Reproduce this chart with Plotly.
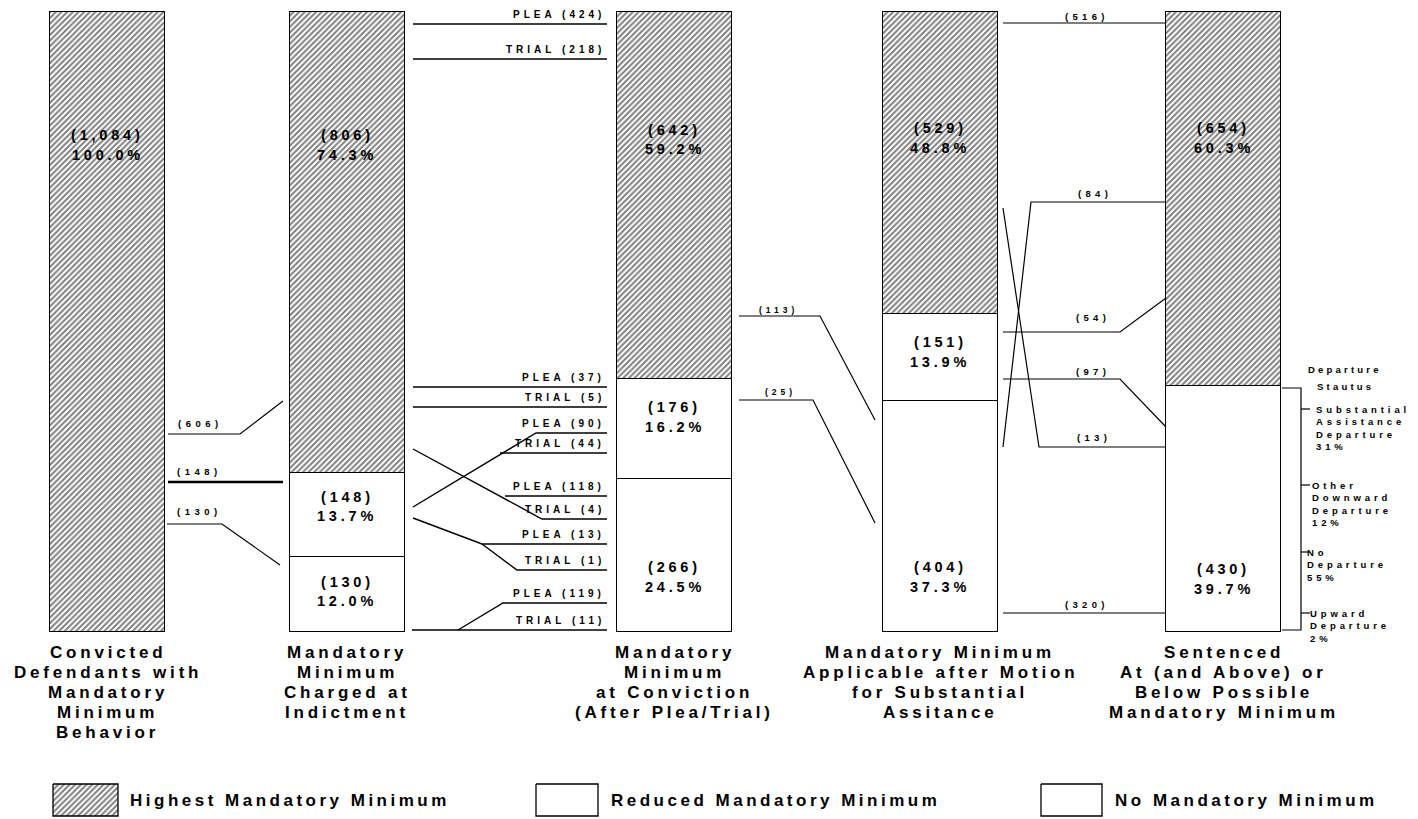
import plotly.graph_objects as go

W, H = 1418, 819

# ---------------- data ----------------
stage_labels = [
    ["Convicted", "Defendants with", "Mandatory", "Minimum", "Behavior"],
    ["Mandatory", "Minimum", "Charged at", "Indictment"],
    ["Mandatory", "Minimum", "at Conviction", "(After Plea/Trial)"],
    ["Mandatory Minimum", "Applicable after Motion", "for Substantial", "Assitance"],
    ["Sentenced", "At (and Above) or", "Below Possible", "Mandatory Minimum"],
]
total_cases = 1084
highest = [1084, 806, 642, 529, 654]
reduced = [None, 148, 176, 151, None]
no_min = [None, 130, 266, 404, 430]
pct_highest = ["100.0%", "74.3%", "59.2%", "48.8%", "60.3%"]
pct_reduced = [None, "13.7%", "16.2%", "13.9%", None]
pct_no_min = [None, "12.0%", "24.5%", "37.3%", "39.7%"]

flows_1_2 = ["(606)", "(148)", "(130)"]
plea_trial = [("PLEA", 424), ("TRIAL", 218), ("PLEA", 37), ("TRIAL", 5),
              ("PLEA", 90), ("TRIAL", 44), ("PLEA", 118), ("TRIAL", 4),
              ("PLEA", 13), ("TRIAL", 1), ("PLEA", 119), ("TRIAL", 11)]
flows_3_4 = [113, 25]
flows_4_5 = [516, 84, 54, 97, 13, 320]
departure_status = [("Substantial<br>Assistance<br>Departure", 31),
                    ("Other<br>Downward<br>Departure", 12),
                    ("No<br>Departure", 55),
                    ("Upward<br>Departure", 2)]
legend_names = ["Highest Mandatory Minimum", "Reduced Mandatory Minimum", "No Mandatory Minimum"]

# ---------------- layout helpers (pixel space) ----------------
stage_x = [107.5, 347, 674.5, 940, 1223.5]
bar_w = 115
base_px, top_px = 631.5, 12.0
k = (base_px - top_px) / total_cases
y_range = [-(H - base_px) / k, base_px / k]

FONT = "Liberation Sans, Arial, Helvetica, sans-serif"


def sp(text, ls):
    return f'<span style="letter-spacing:{ls}px">{text}</span>'


fig = go.Figure()

hatch = dict(shape="/", fgcolor="black", bgcolor="white", size=4, solidity=0.5)
fig.add_trace(go.Bar(x=stage_x, y=no_min, width=bar_w, name=legend_names[2],
                     marker=dict(color="white", line=dict(color="black", width=1.5)),
                     hoverinfo="skip", showlegend=False))
fig.add_trace(go.Bar(x=stage_x, y=reduced, width=bar_w, name=legend_names[1],
                     marker=dict(color="white", line=dict(color="black", width=1.5)),
                     hoverinfo="skip", showlegend=False))
fig.add_trace(go.Bar(x=stage_x, y=highest, width=bar_w, name=legend_names[0],
                     marker=dict(color="white", pattern=hatch, line=dict(color="black", width=1.5)),
                     hoverinfo="skip", showlegend=False))

annotations = []


def add_text(x, y, text, size=10, ls=4, xanchor="center", yanchor="middle", align="center"):
    annotations.append(dict(x=x, y=y, xref="x", yref="y2", text=sp(text, ls), showarrow=False,
                            xanchor=xanchor, yanchor=yanchor, align=align,
                            font=dict(family=FONT, size=size, color="black", weight="bold")))


def add_line(pts, width=1.3):
    fig.add_trace(go.Scatter(x=[p[0] for p in pts], y=[p[1] for p in pts], mode="lines",
                             line=dict(color="black", width=width), yaxis="y2",
                             hoverinfo="skip", showlegend=False))


# ---- bar value labels ----
seg_label_y = {
    (0, "h"): (135, 155), (1, "h"): (135, 155), (2, "h"): (130, 149), (3, "h"): (128, 148), (4, "h"): (128, 148),
    (1, "r"): (497, 516), (1, "n"): (582, 601),
    (2, "r"): (407, 427), (2, "n"): (567, 587),
    (3, "r"): (342, 362), (3, "n"): (567, 587),
    (4, "n"): (569, 589),
}
for i in range(5):
    for key, arr, pcts in (("h", highest, pct_highest), ("r", reduced, pct_reduced), ("n", no_min, pct_no_min)):
        v = arr[i]
        if v is None:
            continue
        y1, y2 = seg_label_y[(i, key)]
        add_text(stage_x[i], y1, f"({v:,})", size=14.5, ls=3.8)
        add_text(stage_x[i], y2, pcts[i], size=14.5, ls=3.8)

# ---- stage 1 -> 2 connectors ----
paths_12 = [[(168, 434), (240, 434), (283, 401)],
            [(168, 482), (283, 482)],
            [(167, 524), (222, 524), (280, 565)]]
lab_12 = [(200, 423), (199, 471), (199, 511)]
for lab, pts, pos in zip(flows_1_2, paths_12, lab_12):
    add_line(pts, width=2.6 if len(pts) == 2 else 1.2)
    add_text(pos[0], pos[1], lab, size=9.5, ls=4.5)

# ---- stage 2 -> 3 connectors (plea / trial) ----
paths_23 = [
    [(413, 24), (607, 24)],
    [(413, 59), (607, 59)],
    [(413, 387), (607, 387)],
    [(413, 407), (607, 407)],
    [(413, 507), (536, 433), (607, 433)],
    [(500, 453), (607, 453)],
    [(505, 496), (607, 496)],
    [(413, 449), (542, 519), (607, 519)],
    [(413, 518), (482, 544), (607, 544)],
    [(482, 544), (517, 570), (607, 570)],
    [(458, 630), (503, 603), (607, 603)],
    [(412, 630), (607, 630)],
]
for (kind, n), pts in zip(plea_trial, paths_23):
    add_line(pts, width=1.4)
    add_text(607, pts[-1][1] - 10, f"{kind} ({n})", size=10, ls=4.0, xanchor="right")

# ---- stage 3 -> 4 connectors ----
paths_34 = [[(739, 316), (820, 316), (875, 420)],
            [(739, 400), (813, 400), (875, 523)]]
lab_34 = [(778, 310), (780, 392)]
for n, pts, pos in zip(flows_3_4, paths_34, lab_34):
    add_line(pts, width=1.2)
    add_text(pos[0], pos[1], f"({n})", size=8.5, ls=4)

# ---- stage 4 -> 5 connectors ----
paths_45 = [
    [(1003, 23), (1165, 23)],
    [(1003, 447), (1031, 202), (1166, 202)],
    [(1003, 332), (1120, 332), (1166, 298)],
    [(1003, 379), (1120, 379), (1166, 427)],
    [(1003, 208), (1039, 447), (1166, 447)],
    [(1003, 613), (1166, 613)],
]
lab_45 = [(1087, 16), (1095, 193), (1093, 317), (1093, 371), (1094, 437), (1087, 604)]
for n, pts, pos in zip(flows_4_5, paths_45, lab_45):
    add_line(pts, width=1.2)
    add_text(pos[0], pos[1], f"({n})", size=9.5, ls=4.3)

# ---- departure status bracket ----
add_line([(1282, 388), (1301, 388), (1301, 630), (1282, 630)], width=1.2)
tick_y = [409, 485, 552, 613]
text_x = [1314, 1310, 1305, 1308]
for (name, pct), ty, tx in zip(departure_status, tick_y, text_x):
    add_line([(1301, ty), (1310, ty)], width=1.2)
    add_text(tx, ty - 7, f"{name}<br>{pct}%", size=9.5, ls=3.9, xanchor="left", yanchor="top", align="left")
add_text(1345, 369, "Departure", size=9.5, ls=3.2)
add_text(1345, 386, "Stautus", size=9.5, ls=3.2)

# ---- stage labels ----
for i, lines in enumerate(stage_labels):
    for j, line in enumerate(lines):
        add_text(stage_x[i], 652 + 20 * j, line, size=17, ls=3.8)

# ---- custom legend ----
legend_boxes = [(53, 118), (536, 598), (1041, 1102)]
legend_text_x = [128, 609, 1113]
for idx, ((x0, x1), tx) in enumerate(zip(legend_boxes, legend_text_x)):
    xs = [x0, x1, x1, x0, x0]
    ys = [784, 784, 816, 816, 784]
    kw = dict(fillpattern=hatch) if idx == 0 else {}
    fig.add_trace(go.Scatter(x=xs, y=ys, mode="lines", fill="toself", fillcolor="white",
                             line=dict(color="black", width=1.3), yaxis="y2",
                             hoverinfo="skip", showlegend=False, **kw))
    add_text(tx, 800, legend_names[idx], size=17, ls=3.5, xanchor="left")

fig.update_layout(
    width=W, height=H, autosize=False,
    margin=dict(l=0, r=0, t=0, b=0, pad=0),
    paper_bgcolor="white", plot_bgcolor="white",
    barmode="stack", bargap=0,
    showlegend=False,
    xaxis=dict(range=[0, W], visible=False, fixedrange=True),
    yaxis=dict(range=y_range, visible=False, fixedrange=True),
    yaxis2=dict(range=[H, 0], visible=False, overlaying="y", fixedrange=True),
    annotations=annotations,
)

fig.write_html("out.html", config={"displayModeBar": False},
               post_script="document.body.style.margin='0';document.body.style.overflow='hidden';")
